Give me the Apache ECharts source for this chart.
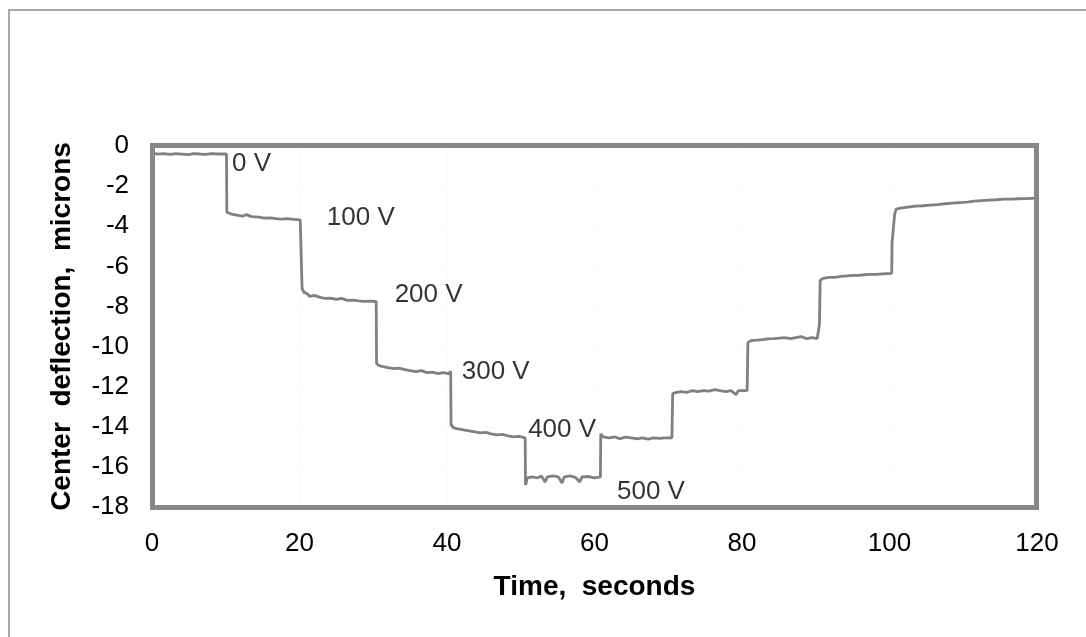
<!DOCTYPE html>
<html>
<head>
<meta charset="utf-8">
<title>Center deflection vs time</title>
<script src="https://cdn.jsdelivr.net/npm/echarts@6/dist/echarts.min.js"></script>
<style>
  html, body { margin: 0; padding: 0; background: #fff; }
  #wrap { position: relative; width: 1086px; height: 637px; overflow: hidden; }
  #frame {
    position: absolute; left: 8px; top: 9px; right: -10px; bottom: -10px;
    border-left: 2px solid #a8a8a8; border-top: 2px solid #a8a8a8;
  }
  #chart { position: absolute; left: 0; top: 0; width: 1086px; height: 637px; }
  /* plot-area frame, same box as the grid below */
  #plotBox {
    position: absolute; left: 150px; top: 143px; width: 889px; height: 367px;
    box-sizing: border-box; border: 5px solid #878787; pointer-events: none;
  }
</style>
</head>
<body>
<div id="wrap">
  <div id="frame"></div>
  <div id="chart"></div>
  <div id="plotBox"></div>
</div>
<script>
// ---------------- data ----------------
// time in seconds, deflection in microns
const timeS = [
  0, 0.8, 1.5, 2.5, 3.2, 4, 5, 5.6, 6.5, 7.3, 8.1, 9, 10.1,
  10.15, 10.8, 11.5, 12.3, 12.8, 13.5, 14.5, 15.2, 16, 16.8, 17.6, 18.3, 19.2, 20.1, 20.3,
  20.35, 20.6, 21, 21.4, 22, 22.8, 23.5, 24.2, 25, 25.7, 26.5, 27.3, 28, 28.8, 29.6, 30.4,
  30.45, 30.8, 31.3, 32, 32.8, 33.5, 34.3, 35, 35.8, 36.5, 37.3, 38, 38.8, 39.5, 40.2, 40.5,
  40.55, 40.9, 41.5, 42.2, 43, 43.8, 44.5, 45.3, 46, 46.8, 47.5, 48.3, 49, 49.8, 50.6,
  50.65, 50.9, 51.5, 52.2, 52.8, 53.3, 53.6, 54.4, 55.1, 55.6, 55.9, 56.7, 57.4, 58, 58.3, 59.2, 60, 60.8,
  60.85, 61.2, 62, 62.7, 63.4, 64.2, 65, 65.8, 66.5, 67.3, 68, 68.8, 69.6, 70.5,
  70.6, 71, 71.7, 72.5, 73.3, 74, 74.8, 75.5, 76.3, 77, 77.8, 78.5, 79.2, 79.5, 80.7,
  80.8, 81.2, 82, 82.8, 83.5, 84.3, 85, 85.8, 86.6, 87.3, 88, 88.7, 89.5, 90.2, 90.5,
  90.6, 91, 91.8, 92.6, 93.4, 94.2, 95, 95.8, 96.6, 97.4, 98.2, 99, 100.3,
  100.35, 100.7, 100.9, 101.5, 102.5, 103.5, 104.5, 105.5, 106.5, 107.5, 108.5, 109.5,
  110.5, 111.5, 112.5, 113.5, 114.5, 115.5, 116.5, 117.5, 118.5, 120
];
const deflectionUm = [
  -0.35, -0.4, -0.38, -0.42, -0.38, -0.4, -0.43, -0.38, -0.4, -0.42, -0.38, -0.4, -0.4,
  -3.3, -3.4, -3.45, -3.5, -3.42, -3.52, -3.55, -3.6, -3.58, -3.62, -3.65, -3.62, -3.66, -3.68, -3.72,
  -7.1, -7.3, -7.35, -7.5, -7.45, -7.55, -7.6, -7.58, -7.65, -7.6, -7.7, -7.68, -7.72, -7.75, -7.73, -7.75,
  -10.85, -10.95, -11.0, -11.05, -11.1, -11.08, -11.15, -11.2, -11.25, -11.2, -11.3, -11.28, -11.35, -11.3, -11.35, -11.25,
  -13.9, -14.05, -14.1, -14.15, -14.2, -14.25, -14.3, -14.28, -14.35, -14.4, -14.38, -14.45, -14.5, -14.48, -14.55,
  -16.9, -16.55, -16.5, -16.55, -16.45, -16.75, -16.5, -16.45, -16.5, -16.8, -16.5, -16.45, -16.52, -16.75, -16.5, -16.48, -16.55, -16.5,
  -14.35, -14.5, -14.55, -14.5, -14.6, -14.52, -14.55, -14.6, -14.55, -14.62, -14.55, -14.58, -14.55, -14.55,
  -12.35, -12.3, -12.25, -12.28, -12.2, -12.25, -12.2, -12.22, -12.15, -12.2, -12.25, -12.2, -12.4, -12.2, -12.2,
  -9.8, -9.7, -9.68, -9.65, -9.62, -9.6, -9.58, -9.55, -9.6, -9.55, -9.5, -9.6, -9.55, -9.6, -8.9,
  -6.7, -6.6, -6.55, -6.55, -6.5, -6.48, -6.45, -6.45, -6.42, -6.4, -6.4, -6.38, -6.35,
  -4.8, -3.4, -3.15, -3.1, -3.05, -3.0, -2.98, -2.95, -2.92, -2.88, -2.85, -2.82,
  -2.8, -2.75, -2.72, -2.7, -2.68, -2.65, -2.65, -2.63, -2.62, -2.6
];

// voltage annotations: left edge time, vertical centre
const voltLabels = ['0 V', '100 V', '200 V', '300 V', '400 V', '500 V'];
const voltLabelTime = [10.85, 23.7, 32.9, 42.0, 51.0, 63.05];
const voltLabelDepth = [-0.9, -3.57, -7.43, -11.26, -14.15, -17.25];

// axis ticks
const xMin = 0, xMax = 120, xStep = 20;
const yMin = -18, yMax = 0, yStep = 2;

// ---------------- chart ----------------
const FONT = 'Liberation Sans, Arial, Helvetica, sans-serif';

function initDeflectionChart() {
    const chart = echarts.init(document.getElementById('chart'), null, { renderer: 'canvas' });

    const lineData = timeS.map((t, i) => [t, deflectionUm[i]]);
    const labelData = voltLabels.map((txt, i) => ({
        value: [voltLabelTime[i], voltLabelDepth[i]],
        name: txt
    }));

    const option = {
        animation: false,
        backgroundColor: 'transparent',
        grid: {
            left: 152,
            right: 49,
            top: 146,
            bottom: 130,
            show: false
        },
        xAxis: {
            type: 'value',
            min: xMin,
            max: xMax,
            interval: xStep,
            name: 'Time,  seconds',
            nameLocation: 'middle',
            nameGap: 66,
            nameTextStyle: { fontFamily: FONT, fontSize: 28, fontWeight: 'bold', color: '#000' },
            axisLine: { show: false },
            axisTick: { show: false },
            axisLabel: { fontFamily: FONT, fontSize: 26, color: '#000', margin: 24 },
            splitLine: { show: true, lineStyle: { color: '#fafafa', width: 1 } }
        },
        yAxis: {
            type: 'value',
            min: yMin,
            max: yMax,
            interval: yStep,
            name: 'Center  deflection,  microns',
            nameLocation: 'middle',
            nameGap: 76,
            nameTextStyle: { fontFamily: FONT, fontSize: 28, fontWeight: 'bold', color: '#000' },
            axisLine: { show: false },
            axisTick: { show: false },
            axisLabel: { fontFamily: FONT, fontSize: 26, color: '#000', margin: 23 },
            splitLine: { show: true, lineStyle: { color: '#fafafa', width: 1 } }
        },
        series: [
            {
                name: 'deflection',
                type: 'line',
                data: lineData,
                showSymbol: false,
                symbol: 'none',
                lineStyle: { color: '#808080', width: 2.8 },
                z: 3
            },
            {
                name: 'voltage',
                type: 'scatter',
                data: labelData,
                symbolSize: 0,
                silent: true,
                label: {
                    show: true,
                    position: 'right',
                    distance: 0,
                    formatter: p => p.name,
                    fontFamily: FONT,
                    fontSize: 26,
                    color: '#000'
                },
                z: 4
            }
        ]
    };

    chart.setOption(option);
}

initDeflectionChart();
</script>
</body>
</html>
